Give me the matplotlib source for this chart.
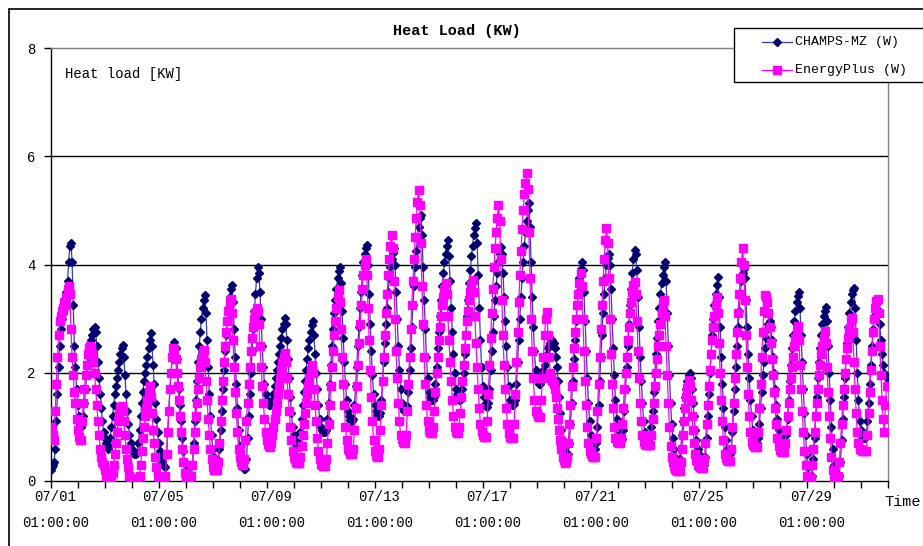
import matplotlib
matplotlib.use("Agg")
import matplotlib.pyplot as plt
import matplotlib.patches as patches
from matplotlib.lines import Line2D

# hourly values (kW), 07/01 01:00 .. 07/31 24:00, one row per day
champs_mz = [
    0.2, 0.25, 0.3, 0.35, 0.6, 1.1, 1.6, 2.1, 2.5, 2.8, 3.0, 3.1, 3.2, 3.3, 3.5, 3.7, 4.05, 4.35, 4.4, 4.05, 3.25, 2.5, 2.1, 1.7,
    1.4, 1.2, 1.05, 1.0, 1.05, 1.2, 1.45, 1.7, 1.95, 2.15, 2.3, 2.45, 2.6, 2.7, 2.8, 2.85, 2.75, 2.5, 2.2, 1.9, 1.6, 1.35, 1.1, 0.9,
    0.8, 0.7, 0.62, 0.6, 0.65, 0.8, 1.0, 1.2, 1.4, 1.6, 1.75, 1.9, 2.05, 2.2, 2.35, 2.45, 2.52, 2.3, 1.95, 1.6, 1.3, 1.05, 0.85, 0.7,
    0.6, 0.55, 0.5, 0.5, 0.5, 0.52, 0.7, 0.95, 1.2, 1.45, 1.65, 1.85, 2.0, 2.15, 2.3, 2.45, 2.6, 2.73, 2.5, 2.15, 1.8, 1.45, 1.15, 0.9,
    0.7, 0.55, 0.45, 0.35, 0.3, 0.27, 0.26, 0.5, 0.9, 1.3, 1.7, 2.0, 2.3, 2.5, 2.57, 2.45, 2.25, 2.0, 1.7, 1.4, 1.1, 0.8, 0.55, 0.35,
    0.2, 0.1, 0.05, 0.0, 0.0, 0.05, 0.3, 0.7, 1.1, 1.5, 1.85, 2.2, 2.5, 2.75, 3.0, 3.2, 3.35, 3.44, 3.1, 2.6, 2.1, 1.6, 1.2, 0.85,
    0.6, 0.45, 0.4, 0.35, 0.35, 0.38, 0.6, 0.95, 1.3, 1.7, 2.05, 2.4, 2.7, 2.95, 3.2, 3.4, 3.55, 3.62, 3.3, 2.8, 2.3, 1.8, 1.35, 0.95,
    0.65, 0.45, 0.3, 0.25, 0.23, 0.23, 0.4, 0.8, 1.2, 1.6, 2.0, 2.4, 2.8, 3.15, 3.45, 3.75, 3.96, 3.85, 3.5, 3.0, 2.5, 2.1, 1.8, 1.6,
    1.5, 1.45, 1.4, 1.4, 1.42, 1.5, 1.6, 1.75, 1.9, 2.05, 2.2, 2.35, 2.5, 2.65, 2.8, 2.9, 3.01, 2.9, 2.6, 2.25, 1.9, 1.55, 1.25, 1.0,
    0.85, 0.75, 0.68, 0.65, 0.63, 0.7, 0.9, 1.15, 1.4, 1.65, 1.85, 2.05, 2.25, 2.45, 2.6, 2.75, 2.88, 2.95, 2.7, 2.35, 2.0, 1.7, 1.4, 1.15,
    1.0, 0.95, 0.9, 0.9, 0.9, 0.95, 1.15, 1.45, 1.8, 2.15, 2.5, 2.8, 3.1, 3.35, 3.55, 3.75, 3.88, 3.95, 3.65, 3.15, 2.65, 2.2, 1.8, 1.5,
    1.3, 1.2, 1.12, 1.1, 1.1, 1.15, 1.4, 1.75, 2.1, 2.5, 2.85, 3.2, 3.5, 3.8, 4.05, 4.2, 4.3, 4.36, 4.0, 3.45, 2.9, 2.4, 1.95, 1.6,
    1.4, 1.3, 1.22, 1.2, 1.2, 1.25, 1.5, 1.85, 2.2, 2.55, 2.9, 3.2, 3.5, 3.75, 3.95, 4.1, 4.22, 4.3, 4.0, 3.5, 3.0, 2.5, 2.05, 1.7,
    1.45, 1.35, 1.3, 1.3, 1.3, 1.38, 1.65, 2.05, 2.45, 2.85, 3.25, 3.6, 3.95, 4.25, 4.5, 4.7, 4.85, 4.92, 4.55, 3.95, 3.35, 2.8, 2.3, 1.9,
    1.65, 1.55, 1.5, 1.5, 1.5, 1.55, 1.8, 2.1, 2.45, 2.75, 3.05, 3.35, 3.6, 3.85, 4.05, 4.2, 4.35, 4.45, 4.15, 3.7, 3.2, 2.75, 2.35, 2.0,
    1.7, 1.6, 1.52, 1.5, 1.5, 1.52, 1.7, 2.0, 2.35, 2.7, 3.05, 3.35, 3.65, 3.9, 4.15, 4.35, 4.55, 4.68, 4.76, 4.4, 3.8, 3.2, 2.6, 2.1,
    1.75, 1.55, 1.42, 1.38, 1.37, 1.45, 1.7, 2.05, 2.4, 2.75, 3.05, 3.35, 3.6, 3.85, 4.05, 4.2, 4.33, 4.2, 3.85, 3.4, 2.95, 2.5, 2.1, 1.75,
    1.5, 1.42, 1.4, 1.4, 1.42, 1.5, 1.8, 2.2, 2.6, 3.0, 3.4, 3.75, 4.05, 4.35, 4.6, 4.8, 5.0, 5.13, 4.7, 4.05, 3.4, 2.85, 2.4, 2.05,
    1.9, 1.85, 1.8, 1.8, 1.85, 1.95, 2.05, 2.15, 2.25, 2.35, 2.45, 2.5, 2.55, 2.6, 2.6, 2.55, 2.45, 2.3, 2.1, 1.85, 1.55, 1.25, 0.95, 0.75,
    0.6, 0.5, 0.45, 0.45, 0.5, 0.7, 1.05, 1.45, 1.85, 2.25, 2.6, 2.95, 3.25, 3.5, 3.75, 3.92, 4.05, 3.9, 3.5, 2.95, 2.4, 1.9, 1.45, 1.1,
    0.85, 0.7, 0.62, 0.6, 0.6, 0.7, 1.0, 1.4, 1.85, 2.3, 2.7, 3.1, 3.45, 3.75, 4.0, 4.12, 4.2, 4.0, 3.55, 3.0, 2.45, 1.95, 1.5, 1.15,
    0.95, 0.82, 0.77, 0.75, 0.78, 0.95, 1.3, 1.7, 2.1, 2.5, 2.9, 3.25, 3.55, 3.85, 4.1, 4.27, 4.2, 3.9, 3.4, 2.85, 2.3, 1.85, 1.45, 1.1,
    0.9, 0.82, 0.8, 0.8, 0.8, 0.82, 1.0, 1.3, 1.65, 2.0, 2.35, 2.65, 2.95, 3.2, 3.45, 3.65, 3.8, 3.95, 4.05, 3.7, 3.1, 2.5, 1.95, 1.45,
    1.05, 0.8, 0.6, 0.45, 0.35, 0.3, 0.3, 0.4, 0.6, 0.85, 1.1, 1.35, 1.55, 1.7, 1.85, 1.95, 2.0, 1.9, 1.7, 1.45, 1.2, 0.95, 0.75, 0.6,
    0.5, 0.42, 0.36, 0.32, 0.3, 0.3, 0.45, 0.8, 1.2, 1.6, 2.0, 2.35, 2.7, 3.0, 3.25, 3.45, 3.62, 3.76, 3.4, 2.85, 2.3, 1.8, 1.35, 1.0,
    0.75, 0.6, 0.52, 0.5, 0.5, 0.6, 0.9, 1.3, 1.7, 2.1, 2.5, 2.85, 3.15, 3.45, 3.7, 3.85, 3.92, 3.75, 3.35, 2.85, 2.35, 1.9, 1.5, 1.2,
    0.95, 0.8, 0.72, 0.7, 0.7, 0.8, 1.05, 1.35, 1.65, 1.95, 2.2, 2.45, 2.65, 2.8, 2.9, 2.95, 2.85, 2.6, 2.3, 2.0, 1.7, 1.4, 1.15, 0.95,
    0.8, 0.7, 0.63, 0.6, 0.6, 0.65, 0.85, 1.15, 1.5, 1.85, 2.15, 2.45, 2.7, 2.95, 3.15, 3.3, 3.42, 3.5, 3.2, 2.7, 2.2, 1.7, 1.25, 0.85,
    0.5, 0.25, 0.1, 0.05, 0.05, 0.1, 0.4, 0.8, 1.2, 1.55, 1.9, 2.2, 2.45, 2.7, 2.9, 3.05, 3.15, 3.21, 2.95, 2.5, 2.0, 1.5, 1.0, 0.6,
    0.3, 0.12, 0.05, 0.05, 0.05, 0.1, 0.35, 0.75, 1.15, 1.55, 1.9, 2.25, 2.55, 2.85, 3.1, 3.3, 3.45, 3.52, 3.57, 3.2, 2.6, 2.0, 1.5, 1.1,
    0.95, 0.85, 0.8, 0.8, 0.8, 0.85, 1.1, 1.45, 1.8, 2.15, 2.5, 2.8, 3.05, 3.2, 3.28, 3.3, 3.15, 2.9, 2.6, 2.35, 2.15, 2.0, 1.95, 1.9,
]

energyplus = [
    1.0, 0.95, 0.85, 0.76, 1.3, 1.8, 2.3, 2.7, 2.95, 3.05, 3.15, 3.2, 3.3, 3.25, 3.4, 3.55, 3.6, 3.45, 2.8, 2.3, 1.95, 1.65, 1.45, 1.15,
    0.95, 0.82, 0.75, 0.75, 1.1, 1.45, 1.7, 1.95, 2.15, 2.35, 2.45, 2.5, 2.45, 2.35, 2.2, 2.0, 1.7, 1.4, 1.1, 0.85, 0.6, 0.45, 0.35, 0.3,
    0.2, 0.1, 0.05, 0.0, 0.0, 0.0, 0.05, 0.15, 0.3, 0.5, 0.7, 0.9, 1.1, 1.25, 1.35, 1.38, 1.3, 1.1, 0.85, 0.6, 0.4, 0.25, 0.1, 0.05,
    0.0, 0.0, 0.0, 0.0, 0.0, 0.0, 0.0, 0.1, 0.3, 0.55, 0.8, 1.0, 1.2, 1.35, 1.5, 1.65, 1.75, 1.55, 1.25, 0.95, 0.7, 0.45, 0.25, 0.1,
    0.0, 0.0, 0.0, 0.0, 0.0, 0.0, 0.1, 0.5, 0.9, 1.3, 1.7, 2.0, 2.3, 2.45, 2.4, 2.25, 2.0, 1.75, 1.5, 1.2, 0.9, 0.6, 0.35, 0.15,
    0.0, 0.0, 0.0, 0.0, 0.0, 0.1, 0.3, 0.6, 0.9, 1.2, 1.45, 1.7, 1.9, 2.1, 2.25, 2.38, 2.42, 2.2, 1.85, 1.5, 1.15, 0.85, 0.6, 0.4,
    0.25, 0.2, 0.2, 0.2, 0.2, 0.35, 0.7, 1.1, 1.5, 1.85, 2.2, 2.5, 2.75, 2.95, 3.15, 3.3, 3.36, 3.1, 2.6, 2.1, 1.65, 1.25, 0.9, 0.6,
    0.45, 0.35, 0.3, 0.3, 0.4, 0.75, 1.1, 1.45, 1.8, 2.1, 2.4, 2.65, 2.85, 3.0, 3.1, 3.2, 3.15, 2.9, 2.5, 2.1, 1.75, 1.45, 1.15, 0.9,
    0.75, 0.68, 0.65, 0.63, 0.7, 0.85, 1.0, 1.15, 1.3, 1.45, 1.6, 1.75, 1.9, 2.05, 2.2, 2.3, 2.36, 2.2, 1.9, 1.6, 1.3, 1.0, 0.75, 0.55,
    0.45, 0.4, 0.36, 0.34, 0.33, 0.33, 0.45, 0.65, 0.85, 1.05, 1.25, 1.45, 1.6, 1.75, 1.9, 2.05, 2.14, 2.0, 1.7, 1.4, 1.1, 0.8, 0.55, 0.4,
    0.32, 0.29, 0.27, 0.27, 0.27, 0.4, 0.7, 1.05, 1.4, 1.75, 2.1, 2.4, 2.7, 2.95, 3.2, 3.4, 3.53, 3.3, 2.8, 2.3, 1.8, 1.4, 1.0, 0.75,
    0.6, 0.55, 0.5, 0.5, 0.5, 0.6, 0.95, 1.35, 1.75, 2.15, 2.55, 2.9, 3.25, 3.55, 3.8, 4.0, 4.1, 3.8, 3.2, 2.6, 2.05, 1.55, 1.1, 0.75,
    0.55, 0.48, 0.45, 0.45, 0.6, 0.95, 1.4, 1.85, 2.3, 2.7, 3.1, 3.45, 3.8, 4.1, 4.35, 4.55, 4.3, 3.7, 3.0, 2.4, 1.9, 1.45, 1.1, 0.85,
    0.78, 0.72, 0.7, 0.7, 0.85, 1.3, 1.8, 2.3, 2.8, 3.25, 3.7, 4.1, 4.5, 4.85, 5.15, 5.38, 5.1, 4.4, 3.6, 2.9, 2.3, 1.8, 1.4, 1.1,
    0.95, 0.9, 0.88, 0.88, 1.0, 1.3, 1.65, 2.0, 2.3, 2.6, 2.85, 3.05, 3.25, 3.4, 3.55, 3.65, 3.45, 3.05, 2.6, 2.2, 1.85, 1.5, 1.2, 1.0,
    0.92, 0.88, 0.88, 1.0, 1.25, 1.55, 1.85, 2.15, 2.45, 2.7, 2.95, 3.15, 3.35, 3.5, 3.62, 3.72, 3.5, 3.05, 2.55, 2.1, 1.7, 1.35, 1.05, 0.9,
    0.85, 0.82, 0.82, 0.82, 1.1, 1.6, 2.15, 2.65, 3.1, 3.55, 3.95, 4.3, 4.6, 4.85, 5.1, 4.8, 4.1, 3.35, 2.7, 2.15, 1.7, 1.35, 1.05, 0.88,
    0.82, 0.8, 0.79, 0.79, 1.05, 1.6, 2.2, 2.75, 3.3, 3.8, 4.25, 4.65, 5.0, 5.3, 5.5, 5.69, 5.4, 4.6, 3.75, 3.0, 2.4, 1.9, 1.5, 1.3,
    1.25, 1.2, 1.19, 1.19, 1.5, 1.9, 2.3, 2.7, 3.0, 3.13, 2.7, 2.3, 2.0, 1.9, 1.85, 1.8, 1.7, 1.55, 1.35, 1.15, 0.95, 0.75, 0.6, 0.45,
    0.38, 0.33, 0.35, 0.45, 0.7, 1.05, 1.4, 1.75, 2.1, 2.45, 2.75, 3.0, 3.25, 3.45, 3.65, 3.84, 3.6, 3.0, 2.4, 1.85, 1.4, 1.0, 0.7, 0.55,
    0.5, 0.47, 0.45, 0.45, 0.45, 0.8, 1.3, 1.8, 2.3, 2.8, 3.25, 3.7, 4.1, 4.45, 4.67, 4.4, 3.75, 3.0, 2.35, 1.8, 1.35, 1.0, 0.8, 0.72,
    0.72, 0.7, 0.7, 0.8, 1.05, 1.35, 1.7, 2.0, 2.3, 2.6, 2.85, 3.1, 3.3, 3.5, 3.62, 3.68, 3.45, 2.95, 2.4, 1.9, 1.45, 1.1, 0.85, 0.72,
    0.68, 0.67, 0.67, 0.67, 0.67, 0.67, 0.85, 1.15, 1.45, 1.75, 2.0, 2.25, 2.5, 2.7, 2.9, 3.1, 3.25, 3.35, 3.05, 2.5, 1.95, 1.45, 1.0, 0.65,
    0.45, 0.35, 0.28, 0.22, 0.2, 0.18, 0.18, 0.18, 0.35, 0.6, 0.85, 1.1, 1.35, 1.55, 1.72, 1.87, 1.75, 1.5, 1.2, 0.95, 0.7, 0.5, 0.38, 0.3,
    0.27, 0.25, 0.24, 0.24, 0.24, 0.4, 0.7, 1.05, 1.4, 1.75, 2.05, 2.35, 2.6, 2.85, 3.05, 3.25, 3.4, 3.1, 2.55, 2.0, 1.5, 1.1, 0.75, 0.5,
    0.42, 0.39, 0.37, 0.37, 0.37, 0.6, 1.0, 1.45, 1.9, 2.35, 2.75, 3.1, 3.45, 3.75, 4.05, 4.3, 4.0, 3.35, 2.7, 2.1, 1.6, 1.2, 0.9, 0.72,
    0.66, 0.64, 0.63, 0.63, 0.63, 0.9, 1.35, 1.8, 2.3, 2.75, 3.15, 3.44, 3.4, 3.3, 3.1, 2.85, 2.55, 2.25, 1.95, 1.65, 1.35, 1.05, 0.8, 0.65,
    0.57, 0.55, 0.53, 0.53, 0.53, 0.7, 0.95, 1.2, 1.45, 1.7, 1.9, 2.1, 2.3, 2.5, 2.65, 2.78, 2.86, 2.6, 2.15, 1.7, 1.3, 0.9, 0.55, 0.3,
    0.1, 0.03, 0.0, 0.0, 0.05, 0.3, 0.6, 0.9, 1.2, 1.45, 1.7, 1.95, 2.15, 2.35, 2.5, 2.65, 2.77, 2.55, 2.1, 1.65, 1.2, 0.8, 0.45, 0.2,
    0.05, 0.0, 0.0, 0.0, 0.1, 0.35, 0.7, 1.05, 1.4, 1.7, 2.0, 2.25, 2.45, 2.65, 2.8, 2.95, 3.02, 2.75, 2.2, 1.7, 1.25, 0.9, 0.7, 0.6,
    0.58, 0.57, 0.56, 0.56, 0.56, 0.56, 0.85, 1.25, 1.65, 2.05, 2.4, 2.75, 3.0, 3.2, 3.32, 3.37, 3.1, 2.5, 1.95, 1.5, 1.15, 0.9, 1.4, 1.75,
]

hours = list(range(len(champs_mz)))
day_ticks = list(range(0, 745, 24))
label_ticks = [0, 96, 192, 288, 384, 480, 576, 672]
tick_labels = ['07/01', '07/05', '07/09', '07/13', '07/17', '07/21', '07/25', '07/29']
y_ticks = [0, 2, 4, 6, 8]
series_names = ['CHAMPS-MZ (W)', 'EnergyPlus (W)']

FONT = 'Liberation Mono'
NAVY = '#00006E'
NAVY_LINE = '#3B3BA0'
PINK = '#FF00FF'

W, H = 923, 546
fig = plt.figure(figsize=(W / 100, H / 100), dpi=100)
ax = fig.add_axes([50.7 / W, 1 - 481 / H, (887.7 - 50.7) / W, (481 - 48) / H])

# outer chart border
fig.add_artist(patches.Rectangle((9 / W, -0.01), 1.0, 1 - 9 / H + 0.01,
                                 transform=fig.transFigure, fill=False,
                                 edgecolor='black', linewidth=1.2))

for y in [2, 4, 6]:
    ax.axhline(y, color='black', linewidth=1.0, zorder=1)

ax.plot(hours, champs_mz, color=NAVY_LINE, linewidth=0.9, marker='D',
        markersize=4.4, markerfacecolor=NAVY, markeredgecolor=NAVY, zorder=3)
ax.plot(hours, energyplus, color=PINK, linewidth=0.9, marker='s',
        markersize=5.6, markerfacecolor=PINK, markeredgecolor=PINK, zorder=4)

ax.set_xlim(0, 744)
ax.set_ylim(0, 8)
ax.set_yticks(y_ticks)
ax.set_yticklabels([str(v) for v in y_ticks], fontfamily=FONT, fontsize=10)
ax.set_xticks(day_ticks)
ax.set_xticklabels([''] * len(day_ticks))
ax.tick_params(axis='both', direction='out', length=5, width=1, colors='black', pad=6)

for pos, lab in zip(label_ticks, tick_labels):
    ax.text(pos + 4, -0.16, lab + '\n01:00:00', ha='center', va='top',
            fontfamily=FONT, fontsize=10, linespacing=2.15)

for side in ['top', 'right']:
    ax.spines[side].set_color('#808080')
    ax.spines[side].set_linewidth(1.0)
for side in ['left', 'bottom']:
    ax.spines[side].set_color('black')
    ax.spines[side].set_linewidth(1.0)

ax.text(0.017, 0.94, 'Heat load [KW]', transform=ax.transAxes, ha='left',
        va='center', fontfamily=FONT, fontsize=10)

fig.text(457 / W, 1 - 31 / H, 'Heat Load (KW)', ha='center', va='center',
         fontfamily=FONT, fontsize=11, fontweight='bold')
fig.text(884 / W, 1 - 502 / H, 'Time', ha='left', va='center',
         fontfamily=FONT, fontsize=11)

# legend box (runs off the right edge like the original)
fig.add_artist(patches.Rectangle((733.5 / W, 1 - 82 / H), 200 / W, 54 / H,
                                 transform=fig.transFigure, facecolor='white',
                                 edgecolor='black', linewidth=1.0, zorder=5))
styles = [dict(color=NAVY_LINE, marker='D', markersize=4.4,
               markerfacecolor=NAVY, markeredgecolor=NAVY),
          dict(color=PINK, marker='s', markersize=5.6,
               markerfacecolor=PINK, markeredgecolor=PINK)]
for name, st, ypix in zip(series_names, styles, [42.5, 69.5]):
    yf = 1 - ypix / H
    fig.add_artist(Line2D([762 / W, 792 / W], [yf, yf], transform=fig.transFigure,
                          linewidth=0.9, zorder=6, color=st['color']))
    fig.add_artist(Line2D([777 / W], [yf], transform=fig.transFigure, linestyle='none',
                          marker=st['marker'], markersize=st['markersize'],
                          markerfacecolor=st['markerfacecolor'],
                          markeredgecolor=st['markeredgecolor'], zorder=7))
    fig.text(795 / W, yf, name, ha='left', va='center', fontfamily=FONT,
             fontsize=9.5, zorder=7)

fig.savefig('out.png', dpi=100)
